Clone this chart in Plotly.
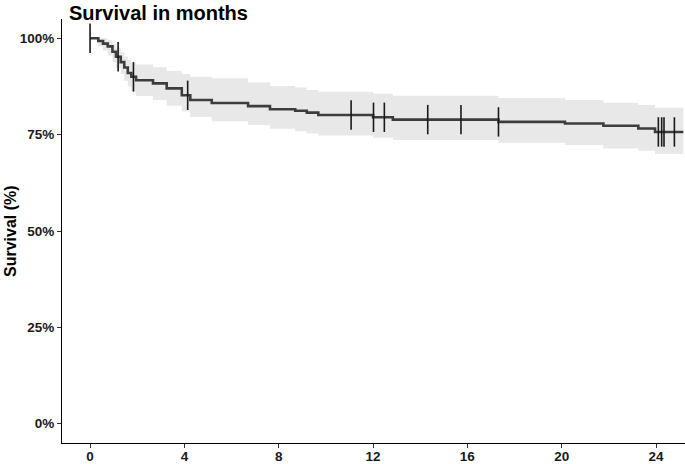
import numpy as np
import plotly.graph_objects as go

# Kaplan-Meier step data (months, survival %)
times = [0, 0.35, 0.55, 0.75, 0.95, 1.1, 1.3, 1.45, 1.6, 1.75, 1.95, 2.67, 3.25, 3.89,
         4.25, 5.16, 6.70, 7.63, 8.7, 9.19, 9.68, 12.0, 12.84, 17.32, 20.14, 21.77,
         23.25, 23.96]
surv = [100, 99.3, 98.6, 97.9, 96.5, 95.2, 93.8, 92.4, 91.0, 90.0, 89.1, 88.3, 87.0,
        85.2, 84.0, 83.2, 82.4, 81.6, 81.2, 80.7, 80.1, 79.5, 78.9, 78.3, 77.9, 77.3,
        76.6, 75.7]
upper = [100, 100, 100, 99.5, 98.6, 97.6, 96.4, 95.3, 94.4, 93.7, 93.2, 92.5, 91.5,
         90.7, 90.0, 89.6, 88.5, 87.6, 87.2, 86.6, 86.1, 85.6, 85.1, 84.5, 84.0, 83.3,
         82.7, 82.0]
lower = [100, 97.9, 96.8, 95.5, 93.8, 92.3, 90.7, 89.0, 87.5, 86.2, 85.0, 84.0, 82.5,
         81.0, 79.6, 78.5, 77.5, 76.5, 75.9, 75.3, 74.8, 74.2, 73.6, 72.9, 72.3, 71.4,
         70.8, 70.0]
end_time = 25.16
censor_times = [0, 1.19, 1.84, 4.14, 11.07, 12.02, 12.48, 14.32, 15.73, 17.32,
                24.10, 24.24, 24.34, 24.78]
x_ticks = [0, 4, 8, 12, 16, 20, 24]
y_ticks = [0, 25, 50, 75, 100]
y_tick_labels = ["0%", "25%", "50%", "75%", "100%"]

t_all = times + [end_time]
s_all = surv + [surv[-1]]
u_all = upper + [upper[-1]]
l_all = lower + [lower[-1]]

tarr = np.array(times)
censor_surv = [surv[int(np.searchsorted(tarr, c, side="right")) - 1] for c in censor_times]

fig = go.Figure()
fig.add_trace(go.Scatter(x=t_all, y=l_all, mode="lines", line=dict(width=0, shape="hv"),
                         hoverinfo="skip", showlegend=False))
fig.add_trace(go.Scatter(x=t_all, y=u_all, mode="lines", line=dict(width=0, shape="hv"),
                         fill="tonexty", fillcolor="#e8e8e8", hoverinfo="skip",
                         showlegend=False))
fig.add_trace(go.Scatter(x=t_all, y=s_all, mode="lines",
                         line=dict(color="#3d3d3d", width=2.6, shape="hv"),
                         showlegend=False))
fig.add_trace(go.Scatter(x=censor_times, y=censor_surv, mode="markers",
                         marker=dict(symbol="line-ns", size=21,
                                     line=dict(color="#1a1a1a", width=1.6)),
                         showlegend=False))

font = "Liberation Sans, Arial, sans-serif"
W, H = 685, 464
fig.update_layout(
    width=W, height=H,
    margin=dict(l=62, r=0, t=19, b=H - 443),
    paper_bgcolor="white", plot_bgcolor="white",
    font=dict(family=font, color="#1a1a1a"),
    xaxis=dict(range=[-1.19, 25.23], tickvals=x_ticks,
               ticktext=[f"<b>{v}</b>" for v in x_ticks],
               showline=True, linecolor="#000000", linewidth=1,
               ticks="outside", ticklen=4, tickcolor="#333333",
               ticklabelstandoff=-3,
               showgrid=False, zeroline=False, automargin=False,
               tickfont=dict(size=13.5, color="#1a1a1a")),
    yaxis=dict(range=[-5, 105], tickvals=y_ticks,
               ticktext=[f"<b>{v}</b>" for v in y_tick_labels],
               showline=True, linecolor="#000000", linewidth=1,
               ticks="outside", ticklen=4, tickcolor="#333333",
               showgrid=False, zeroline=False, automargin=False,
               tickfont=dict(size=13.5, color="#1a1a1a")),
    annotations=[
        dict(text="<b>Survival in months</b>", xref="paper", yref="paper",
             x=0, y=1, xshift=5, yshift=6, xanchor="left", yanchor="middle",
             showarrow=False, font=dict(size=20, family=font, color="#000000")),
        dict(text="<b>Survival (%)</b>", xref="paper", yref="paper",
             x=0, y=0.5, xshift=-52, xanchor="center", yanchor="middle",
             textangle=-90, showarrow=False,
             font=dict(size=16, family=font, color="#000000")),
    ],
)

fig.write_html("out.html", config={"displayModeBar": False},
               post_script="document.body.style.margin='0';document.body.style.overflow='hidden';")
